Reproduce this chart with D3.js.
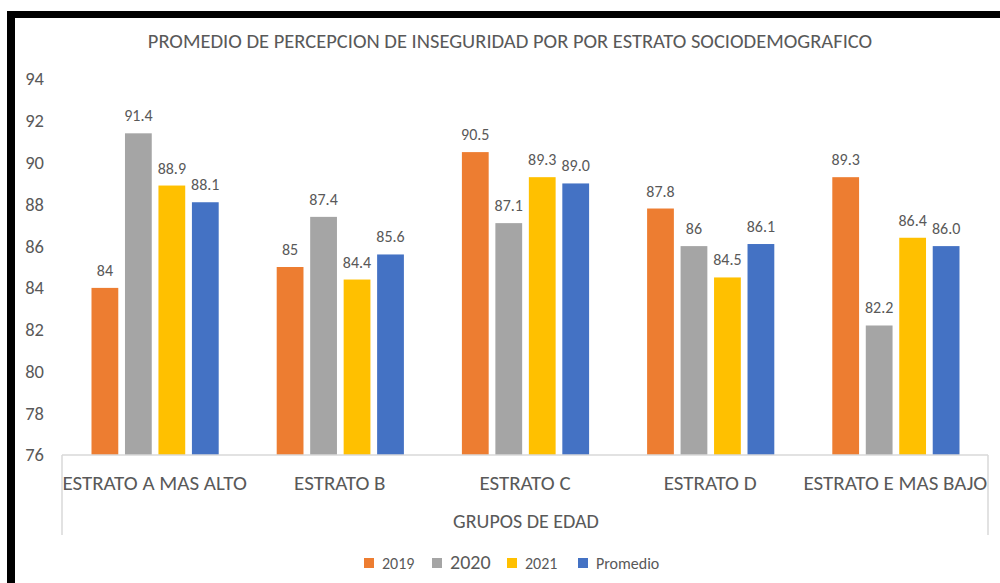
<!DOCTYPE html>
<html>
<head>
<meta charset="utf-8">
<script src="https://cdn.jsdelivr.net/npm/d3@7"></script>
<style>
  html, body { margin: 0; padding: 0; background: #fff; }
  svg { display: block; font-family: Carlito, Lato, "Open Sans", sans-serif; }
</style>
</head>
<body>
<svg id="chart" width="1000" height="583"></svg>
<script>
const categories = ["ESTRATO A MAS ALTO", "ESTRATO B", "ESTRATO C", "ESTRATO D", "ESTRATO E MAS BAJO"];
const seriesNames = ["2019", "2020", "2021", "Promedio"];
const values2019 = [84, 85, 90.5, 87.8, 89.3];
const values2020 = [91.4, 87.4, 87.1, 86, 82.2];
const values2021 = [88.9, 84.4, 89.3, 84.5, 86.4];
const valuesPromedio = [88.1, 85.6, 89.0, 86.1, 86.0];
const yTicks = [76, 78, 80, 82, 84, 86, 88, 90, 92, 94];
const colors = ["#ED7D31", "#A5A5A5", "#FFC000", "#4472C4"];
const title = "PROMEDIO DE PERCEPCION DE INSEGURIDAD POR POR ESTRATO SOCIODEMOGRAFICO";
const xTitle = "GRUPOS DE EDAD";

const allSeries = [values2019, values2020, values2021, valuesPromedio];
const fmt = [d => String(d), d => String(d), d => String(d), d => d.toFixed(1)];

(function () {
const FONT = 'Carlito, Lato, "Open Sans", sans-serif';
const svg = d3.select("#chart");
const textColor = "#595959";

// frame (black borders)
svg.append("rect").attr("x", 7).attr("y", 11).attr("width", 993).attr("height", 7).attr("fill", "#000");
svg.append("rect").attr("x", 7).attr("y", 11).attr("width", 8).attr("height", 572).attr("fill", "#000");

const pLeft = 62, pRight = 988, pTop = 79, pBottom = 455;

const x0 = d3.scaleBand().domain(categories).range([pLeft, pRight]).paddingInner(0).paddingOuter(0);
const x1 = d3.scaleBand().domain(seriesNames).range([29.5, x0.bandwidth() - 28.5]).paddingInner(0.2).paddingOuter(0);
const y = d3.scaleLinear().domain([76, 94]).range([pBottom, pTop]);

// title
svg.append("text").attr("x", 510).attr("y", 48).attr("text-anchor", "middle")
  .attr("fill", textColor).style("font-size", "20.5px").text(title);

// y axis labels
const yAxis = d3.axisLeft(y).tickValues(yTicks).tickSize(0).tickPadding(0).tickFormat(d3.format("d"));
const yg = svg.append("g").attr("transform", `translate(44,0)`).call(yAxis)
  .attr("font-family", FONT).attr("font-size", 18.5);
yg.select(".domain").remove();
yg.selectAll("text").attr("fill", textColor);

// bars
const groups = svg.append("g").selectAll("g").data(categories).join("g")
  .attr("transform", d => `translate(${x0(d)},0)`);

groups.each(function(cat, ci) {
  const g = d3.select(this);
  const rows = seriesNames.map((s, si) => ({s, si, v: allSeries[si][ci]}));
  g.selectAll("rect").data(rows).join("rect")
    .attr("x", d => x1(d.s)).attr("width", x1.bandwidth())
    .attr("y", d => y(d.v)).attr("height", d => y(76) - y(d.v))
    .attr("fill", d => colors[d.si]);
  g.selectAll("text").data(rows).join("text")
    .attr("x", d => x1(d.s) + x1.bandwidth() / 2)
    .attr("y", d => y(d.v) - 12)
    .attr("text-anchor", "middle").attr("fill", textColor).style("font-size", "16px")
    .text(d => fmt[d.si](d.v));
});

// x axis
const xAxis = d3.axisBottom(x0).tickSize(0).tickPadding(0);
const xg = svg.append("g").attr("transform", `translate(0,${pBottom})`).call(xAxis)
  .attr("font-family", FONT).attr("font-size", 21);
xg.select(".domain").attr("stroke", "#D9D9D9").attr("stroke-width", 1.5).attr("d", `M${pLeft},0H${pRight}`);
xg.selectAll("text").attr("fill", textColor).attr("dy", null).attr("y", 35);
svg.append("line").attr("x1", pLeft).attr("x2", pLeft).attr("y1", pBottom).attr("y2", 535).attr("stroke", "#D9D9D9").attr("stroke-width", 1.5);
svg.append("line").attr("x1", pRight).attr("x2", pRight).attr("y1", pBottom).attr("y2", 535).attr("stroke", "#D9D9D9").attr("stroke-width", 1.5);

svg.append("text").attr("x", 526).attr("y", 528).attr("text-anchor", "middle")
  .attr("fill", textColor).style("font-size", "20px").text(xTitle);

// legend
const legendX = [364, 432, 507, 578];
const legendSize = ["16px", "20px", "16px", "16px"];
const lg = svg.append("g").selectAll("g").data(seriesNames).join("g")
  .attr("transform", (d, i) => `translate(${legendX[i]},0)`);
lg.append("rect").attr("x", 0).attr("y", 558).attr("width", 10).attr("height", 10).attr("fill", (d, i) => colors[i]);
lg.append("text").attr("x", 18).attr("y", 568.5).attr("fill", textColor)
  .style("font-size", (d, i) => legendSize[i]).text(d => d);
})();
</script>
</body>
</html>
